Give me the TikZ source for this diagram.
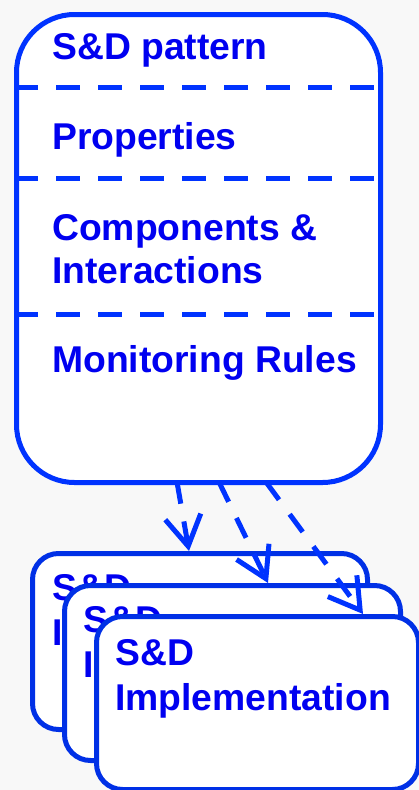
\documentclass[tikz,border=0pt]{standalone}
\usepackage{fontspec}
\setmainfont{Liberation Sans}
\usetikzlibrary{arrows.meta}
\definecolor{linebl}{HTML}{0033FF}
\definecolor{boxbl}{HTML}{0030E6}
\definecolor{textbl}{HTML}{0000F0}
\definecolor{paper}{HTML}{F8F8F8}
\begin{document}
\begin{tikzpicture}[x=1pt,y=-1pt,
  mainbox/.style={draw=linebl, line width=5pt, fill=white, rounded corners=58pt,
    inner sep=0pt, anchor=north west},
  implbox/.style={draw=boxbl, line width=5pt, fill=white, rounded corners=26pt,
    inner sep=0pt, anchor=north west},
  label/.style={text=textbl, font=\bfseries\fontsize{37.3}{45}\selectfont,
    anchor=base west, inner sep=0pt},
  sepline/.style={draw=linebl, line width=5pt, dash pattern=on 24pt off 18pt},
  flow/.style={draw=linebl, line width=5pt, dash pattern=on 22pt off 18pt,
    -{Straight Barb[length=30pt,width=36pt]}}]
\useasboundingbox (0,0) rectangle (419,790);
\fill[paper] (0,0) rectangle (419,790);

% pattern box with its four compartments
\node[mainbox, minimum width=364pt, minimum height=468pt] (main) at (14,12) {};
\draw[sepline] (14,87) -- (376,87);
\draw[sepline] (14,178) -- (376,178);
\draw[sepline] (14,314) -- (376,314);
\node[label] (title) at (52,59) {S\&D pattern};
\node[label] (props) at (52,149) {Properties};
\node[label] (comp1) at (52,240) {Components \&};
\node[label] (comp2) at (52,283) {Interactions};
\node[label] (rules) at (52,372) {Monitoring Rules};

% stack of implementations
\node[implbox, minimum width=335pt, minimum height=176pt] (implA) at (30,551) {};
\node[label] (implAa) at (52,600) {S\&D};
\node[label] (implAb) at (52,645) {Implementation};
\node[implbox, minimum width=336pt, minimum height=175pt] (implB) at (62,583) {};
\node[label] (implBa) at (83,632) {S\&D};
\node[label] (implBb) at (83,677) {Implementation};
\node[implbox, minimum width=322pt, minimum height=173pt] (implC) at (94,614) {};
\node[label] (implCa) at (115,665) {S\&D};
\node[label] (implCb) at (115,710) {Implementation};

% instantiation arrows
\coordinate (s1) at (177,482);
\coordinate (s2) at (219,482);
\coordinate (s3) at (266,482);
\coordinate (t1) at (189,551);
\coordinate (t2) at (268,583);
\coordinate (t3) at (363,614);
\draw[flow] (s1) -- (t1);
\draw[flow] (s2) -- (t2);
\draw[flow] (s3) -- (t3);
\end{tikzpicture}
\end{document}
